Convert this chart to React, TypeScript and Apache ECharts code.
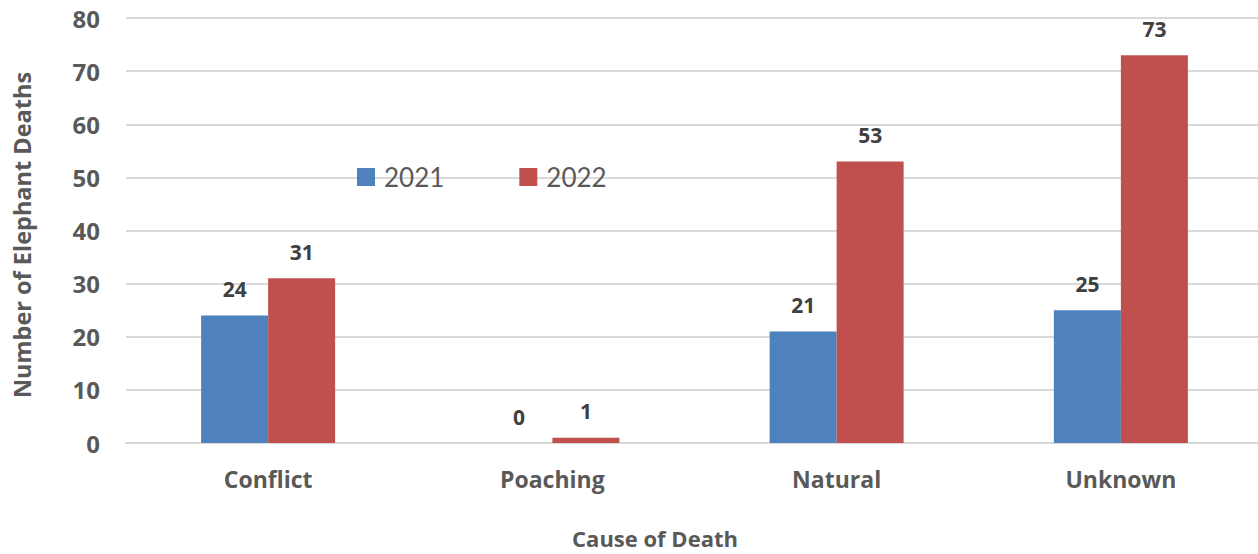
import React, { useEffect, useRef } from "react";
import * as echarts from "echarts";

const categories = ["Conflict", "Poaching", "Natural", "Unknown"];
const values2021 = [24, 0, 21, 25];
const values2022 = [31, 1, 53, 73];
const seriesNames = ["2021", "2022"];
const colors = ["#4F81BD", "#C0504D"];
const xTitle = "Cause of Death";
const yTitle = "Number of Elephant Deaths";
const BOLD = "'Open Sans', sans-serif";
const REG = "Lato, sans-serif";

export default function App() {
  const ref = useRef<HTMLDivElement>(null);
  useEffect(() => {
    const chart = echarts.init(ref.current!, null, { renderer: "svg" });
    const label = {
      show: true,
      position: "top",
      distance: 16,
      color: "#404040",
      fontWeight: "bold",
      fontSize: 21,
      fontFamily: BOLD,
    };
    chart.setOption({
      animation: false,
      textStyle: { fontFamily: BOLD },
      grid: { left: 126, width: 1137, top: 18, bottom: 111, containLabel: false },
      legend: {
        left: 352,
        top: 159,
        itemWidth: 18,
        itemHeight: 18,
        itemGap: 75,
        icon: "rect",
        textStyle: { fontSize: 26, color: "#595959", fontFamily: REG, padding: [0, 0, 0, 4] },
        data: seriesNames,
      },
      graphic: [
        {
          type: "text",
          x: 22,
          y: 235,
          rotation: Math.PI / 2,
          style: {
            text: yTitle,
            fill: "#595959",
            font: `bold 23.5px ${BOLD}`,
            align: "center",
            verticalAlign: "middle",
          },
        },
        {
          type: "text",
          x: 655,
          y: 538,
          style: {
            text: xTitle,
            fill: "#595959",
            font: `bold 22px ${BOLD}`,
            align: "center",
            verticalAlign: "middle",
          },
        },
      ],
      xAxis: {
        type: "category",
        data: categories,
        axisLine: { lineStyle: { color: "#D9D9D9", width: 2 } },
        axisTick: { show: false },
        axisLabel: { color: "#595959", fontSize: 23, fontWeight: "bold", margin: 24, fontFamily: BOLD },
      },
      yAxis: {
        type: "value",
        min: 0,
        max: 80,
        interval: 10,
        axisLine: { show: false },
        axisTick: { show: false },
        splitLine: { lineStyle: { color: "#D9D9D9", width: 2 } },
        axisLabel: { color: "#595959", fontSize: 24, fontWeight: "bold", margin: 26, fontFamily: BOLD },
      },
      series: [
        {
          name: seriesNames[0],
          type: "bar",
          data: values2021,
          barWidth: 67,
          barGap: "0%",
          itemStyle: { color: colors[0] },
          label,
        },
        {
          name: seriesNames[1],
          type: "bar",
          data: values2022,
          barWidth: 67,
          barGap: "0%",
          itemStyle: { color: colors[1] },
          label,
        },
      ],
    });
    return () => chart.dispose();
  }, []);
  return (
    <div style={{ position: "fixed", left: 0, top: 0, width: 1258, height: 554, overflow: "hidden", background: "#fff" }}>
      <div ref={ref} style={{ width: 1270, height: 554 }} />
    </div>
  );
}
